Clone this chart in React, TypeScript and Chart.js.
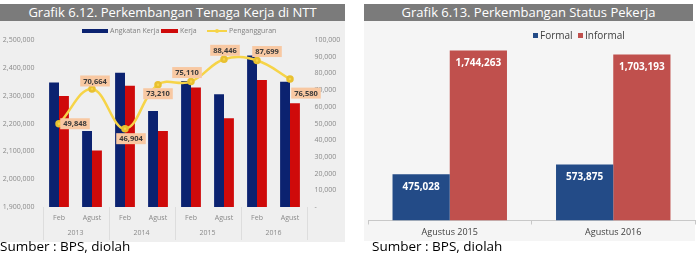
import React, { useEffect, useRef } from 'react';
import Chart from 'chart.js/auto';

// ---- Data: Grafik 6.12 ----
const periods = ['Feb', 'Agust', 'Feb', 'Agust', 'Feb', 'Agust', 'Feb', 'Agust'];
const years = ['2013', '2014', '2015', '2016'];
const angkatanKerja = [2347000, 2173000, 2382000, 2245000, 2353000, 2305000, 2444000, 2350000];
const kerja = [2299000, 2103000, 2336000, 2173000, 2329000, 2219000, 2356000, 2273000];
const pengangguran = [49848, 70664, 46904, 73210, 75110, 88446, 87699, 76580];
const leftAxisMin = 1900000;
const leftAxisMax = 2500000;
const leftAxisStep = 100000;
const rightAxisMin = 0;
const rightAxisMax = 100000;
const rightAxisStep = 10000;

// ---- Data: Grafik 6.13 ----
const statusCategories = ['Agustus 2015', 'Agustus 2016'];
const formal = [475028, 573875];
const informal = [1744263, 1703193];
const statusAxisMax = 1800000;

// label placement (style) for unemployment callouts: [dx, dy] from point
const calloutOffsets = [[16, 0], [3, -8], [6, 10], [0, 9], [-4, -9], [1, -9], [10, -9], [16, 14]];

const FONT = '"Open Sans", "DejaVu Sans", sans-serif';
const fmt = (v: number) => v.toLocaleString('en-US');

const calloutPlugin = {
  id: 'callouts',
  afterDatasetsDraw(chart: any) {
    const ds = chart.data.datasets[2];
    const meta = chart.getDatasetMeta(2);
    const ctx = chart.ctx;
    ctx.save();
    ctx.font = `bold 7.5px ${FONT}`;
    ctx.textAlign = 'center';
    ctx.textBaseline = 'middle';
    meta.data.forEach((pt: any, i: number) => {
      const text = fmt(ds.data[i]);
      const [dx, dy] = calloutOffsets[i];
      const cx = pt.x + dx;
      const cy = pt.y + dy;
      const w = ctx.measureText(text).width + 6;
      const h = 11;
      ctx.fillStyle = '#f8c8a2';
      ctx.fillRect(cx - w / 2, cy - h / 2, w, h);
      ctx.fillStyle = '#3a3a3a';
      ctx.fillText(text, cx, cy + 0.5);
    });
    ctx.restore();
  },
};

const separatorPlugin = {
  id: 'yearSeparators',
  afterDraw(chart: any) {
    const xs = chart.scales.x;
    const step = (xs.right - xs.left) / periods.length;
    const ctx = chart.ctx;
    ctx.save();
    ctx.strokeStyle = '#dddddd';
    ctx.lineWidth = 1;
    for (let i = 0; i <= years.length; i++) {
      const x = Math.round(xs.left + i * 2 * step) + 0.5;
      ctx.beginPath();
      ctx.moveTo(x, xs.top);
      ctx.lineTo(x, chart.height - 2);
      ctx.stroke();
    }
    ctx.restore();
  },
};

const barValuePlugin = {
  id: 'barValues',
  afterDatasetsDraw(chart: any) {
    const ctx = chart.ctx;
    ctx.save();
    ctx.font = `bold 10px ${FONT}`;
    ctx.fillStyle = '#ffffff';
    ctx.textAlign = 'center';
    ctx.textBaseline = 'middle';
    chart.data.datasets.forEach((ds: any, di: number) => {
      chart.getDatasetMeta(di).data.forEach((bar: any, i: number) => {
        ctx.fillText(fmt(ds.data[i]), bar.x, bar.y + 13);
      });
    });
    ctx.restore();
  },
};

export default function App() {
  const leftRef = useRef<HTMLCanvasElement>(null);
  const rightRef = useRef<HTMLCanvasElement>(null);

  useEffect(() => {
    const tickFont = { family: FONT, size: 7 };
    const noGrid = { display: false, drawTicks: false };
    const left = new Chart(leftRef.current!, {
      type: 'bar',
      data: {
        labels: periods,
        datasets: [
          {
            label: 'Angkatan Kerja',
            data: angkatanKerja,
            backgroundColor: '#0b2270',
            yAxisID: 'y',
            order: 2,
            categoryPercentage: 0.6,
            barPercentage: 1,
          },
          {
            label: 'Kerja',
            data: kerja,
            backgroundColor: '#cf0a0a',
            yAxisID: 'y',
            order: 2,
            categoryPercentage: 0.6,
            barPercentage: 1,
          },
          {
            type: 'line',
            label: 'Pengangguran',
            data: pengangguran,
            borderColor: '#f6d448',
            backgroundColor: '#f6d448',
            borderWidth: 2.5,
            tension: 0.4,
            pointRadius: 2.5,
            pointBackgroundColor: '#f6d448',
            pointBorderColor: '#e8c030',
            yAxisID: 'y1',
            order: 0,
          } as any,
        ],
      },
      options: {
        responsive: false,
        animation: false,
        layout: { padding: { top: 19, left: 0, right: 0, bottom: 0 } },
        plugins: { legend: { display: false }, tooltip: { enabled: false } },
        scales: {
          x: {
            position: 'bottom',
            grid: noGrid,
            border: { display: false },
            ticks: { font: tickFont, color: '#8a8a8a', padding: 7, maxRotation: 0, autoSkip: false },
            afterFit: (s: any) => { s.height = 16; },
          },
          x2: {
            type: 'category',
            position: 'bottom',
            labels: years,
            offset: true,
            grid: noGrid,
            border: { display: false },
            ticks: { font: tickFont, color: '#8a8a8a', padding: 6, maxRotation: 0 },
            afterFit: (s: any) => { s.height = 19; },
          },
          y: {
            position: 'left',
            min: leftAxisMin,
            max: leftAxisMax,
            grid: noGrid,
            border: { display: false },
            ticks: { stepSize: leftAxisStep, font: tickFont, color: '#8a8a8a', padding: 8, callback: (v: any) => fmt(v) },
            afterFit: (s: any) => { s.width = 42.5; },
          },
          y1: {
            position: 'right',
            min: rightAxisMin,
            max: rightAxisMax,
            grid: noGrid,
            border: { display: false },
            ticks: { stepSize: rightAxisStep, font: tickFont, color: '#8a8a8a', padding: 8, callback: (v: any) => (v === 0 ? '-' : fmt(v)) },
            afterFit: (s: any) => { s.width = 38.5; },
          },
        },
      } as any,
      plugins: [calloutPlugin, separatorPlugin],
    });

    const right = new Chart(rightRef.current!, {
      type: 'bar',
      data: {
        labels: statusCategories,
        datasets: [
          { label: 'Formal', data: formal, backgroundColor: '#234b87', categoryPercentage: 0.7, barPercentage: 1 },
          { label: 'Informal', data: informal, backgroundColor: '#c0504d', categoryPercentage: 0.7, barPercentage: 1 },
        ],
      },
      options: {
        responsive: false,
        animation: false,
        layout: { padding: { top: 24, left: 6, right: 3, bottom: 0 } },
        plugins: { legend: { display: false }, tooltip: { enabled: false } },
        scales: {
          x: {
            grid: { display: true, drawOnChartArea: false, drawTicks: true, tickLength: 4, offset: true, color: '#c8c8c8' },
            border: { display: true, color: '#c8c8c8' },
            ticks: { font: { family: FONT, size: 9 }, color: '#404040', padding: 3 },
            afterFit: (s: any) => { s.height = 21.5; },
          },
          y: { display: false, min: 0, max: statusAxisMax },
        },
      } as any,
      plugins: [barValuePlugin],
    });

    return () => {
      left.destroy();
      right.destroy();
    };
  }, []);

  const titleStyle: React.CSSProperties = {
    position: 'absolute', top: 4, height: 17, background: '#7b7b7b', color: '#ffffff',
    fontFamily: FONT, fontSize: 13, lineHeight: '17px', textAlign: 'center', whiteSpace: 'nowrap',
  };
  const legendText: React.CSSProperties = { position: 'absolute', fontFamily: FONT, fontSize: 7, color: '#808080', lineHeight: '9px', whiteSpace: 'nowrap' };
  const legendText2: React.CSSProperties = { position: 'absolute', fontFamily: FONT, fontSize: 10, color: '#404040', lineHeight: '12px', whiteSpace: 'nowrap' };
  const sumberStyle: React.CSSProperties = { position: 'absolute', top: 238, fontFamily: FONT, fontSize: 13.5, lineHeight: '16px', color: '#000', whiteSpace: 'nowrap' };

  return (
    <div style={{ position: 'absolute', left: 0, top: 0, width: 700, height: 254, overflow: 'hidden', background: '#ffffff' }}>
      {/* Left chart */}
      <div style={{ position: 'absolute', left: 0, top: 21, width: 345, height: 221, background: '#efefef' }} />
      <div style={{ ...titleStyle, left: 0, width: 345 }}>Grafik 6.12. Perkembangan Tenaga Kerja di NTT</div>
      <canvas ref={leftRef} width={345} height={221} style={{ position: 'absolute', left: 0, top: 21, width: 345, height: 221 }} />
      <div style={{ position: 'absolute', left: 82, top: 29, width: 26, height: 4, background: '#0b2270' }} />
      <div style={{ ...legendText, left: 110, top: 26 }}>Angkatan Kerja</div>
      <div style={{ position: 'absolute', left: 161, top: 29, width: 17, height: 4, background: '#cf0a0a' }} />
      <div style={{ ...legendText, left: 180, top: 26 }}>Kerja</div>
      <div style={{ position: 'absolute', left: 207, top: 30, width: 20, height: 2, background: '#f6d448' }} />
      <div style={{ position: 'absolute', left: 215, top: 29, width: 4, height: 4, borderRadius: 2, background: '#f6d448' }} />
      <div style={{ ...legendText, left: 229, top: 26 }}>Pengangguran</div>
      <div style={{ ...sumberStyle, left: 0 }}>Sumber : BPS, diolah</div>

      {/* Right chart */}
      <div style={{ position: 'absolute', left: 364, top: 21, width: 331, height: 220, background: '#f5f5f5' }} />
      <div style={{ ...titleStyle, left: 364, width: 329 }}>Grafik 6.13. Perkembangan Status Pekerja</div>
      <canvas ref={rightRef} width={336} height={221} style={{ position: 'absolute', left: 362, top: 21, width: 336, height: 221 }} />
      <div style={{ position: 'absolute', left: 533, top: 33, width: 5, height: 5, background: '#234b87' }} />
      <div style={{ ...legendText2, left: 540, top: 29 }}>Formal</div>
      <div style={{ position: 'absolute', left: 578, top: 33, width: 5, height: 5, background: '#c0504d' }} />
      <div style={{ ...legendText2, left: 585, top: 29 }}>Informal</div>
      <div style={{ ...sumberStyle, left: 372 }}>Sumber : BPS, diolah</div>
    </div>
  );
}
